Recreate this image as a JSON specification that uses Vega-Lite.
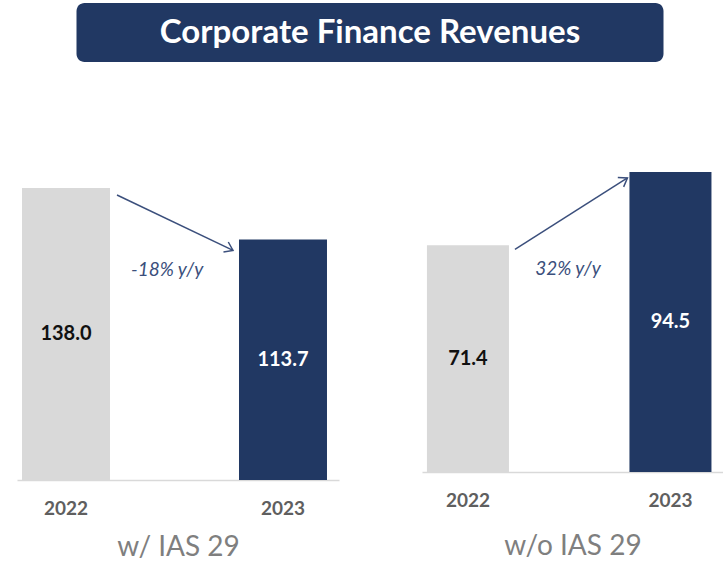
{
  "$schema": "https://vega.github.io/schema/vega-lite/v6.json",
  "padding": {"left": 17, "top": 3, "right": 0, "bottom": 0},
  "background": "white",
  "config": {"view": {"stroke": null}, "font": "Lato"},
  "datasets": {
    "bars_w": [{"year": "2022", "v": 138.0}, {"year": "2023", "v": 113.7}],
    "bars_wo": [{"year": "2022", "v": 71.4}, {"year": "2023", "v": 94.5}],
    "arrow_w": [{"from": "2022", "to": "2023", "v0": 138.0, "v1": 113.7, "label": "-18% y/y"}],
    "arrow_wo": [{"from": "2022", "to": "2023", "v0": 71.4, "v1": 94.5, "label": "32% y/y"}],
    "head": [{"title": "Corporate Finance Revenues"}]
  },
  "spacing": 103,
  "center": true,
  "vconcat": [
    {
      "width": 587,
      "height": 59,
      "view": {"fill": "#213863", "cornerRadius": 8, "stroke": null},
      "data": {"name": "head"},
      "mark": {"type": "text", "font": "Lato", "fontWeight": "bold", "fontSize": 33, "color": "#ffffff"},
      "encoding": {"text": {"field": "title", "type": "nominal"}}
    },
    {
      "spacing": 83,
      "hconcat": [
        {
          "width": 322,
          "height": 315,
          "layer": [
            {
              "data": {"name": "bars_w"},
              "mark": {"type": "bar"},
              "encoding": {
                "x": {
                  "field": "year", "type": "nominal", "title": "w/ IAS 29",
                  "scale": {"paddingInner": 0.5945, "paddingOuter": 0.0392, "align": 0.294},
                  "axis": {"labelAngle": 0, "ticks": false, "domainColor": "#d9d9d9", "domainWidth": 1.5,
                    "labelFont": "Lato", "labelFontWeight": "bold", "labelFontSize": 19, "labelColor": "#5f5f5f", "labelPadding": 19,
                    "titleFont": "Lato", "titleFontWeight": "normal", "titleFontSize": 28, "titleColor": "#7f7f7f", "titlePadding": 15}
                },
                "y": {"field": "v", "type": "quantitative", "scale": {"domain": [0, 148.87], "nice": false}, "axis": null},
                "color": {"field": "year", "type": "nominal", "scale": {"domain": ["2022", "2023"], "range": ["#d9d9d9", "#213863"]}, "legend": null}
              }
            },
            {
              "data": {"name": "bars_w"},
              "mark": {"type": "text", "font": "Lato", "fontWeight": "bold", "fontSize": 20},
              "encoding": {
                "x": {"field": "year", "type": "nominal", "title": "w/ IAS 29"},
                "y": {"field": "v", "type": "quantitative", "stack": "zero", "bandPosition": 0.5, "axis": null},
                "detail": {"field": "year"},
                "text": {"field": "v", "type": "quantitative", "format": ".1f"},
                "color": {"condition": {"test": "datum.year === '2023'", "value": "#ffffff"}, "value": "#111111"}
              }
            },
            {
              "data": {"name": "arrow_w"},
              "mark": {"type": "rule", "color": "#3b4f7c", "strokeWidth": 1.5, "xOffset": 7, "x2Offset": -6, "yOffset": 7, "y2Offset": 11},
              "encoding": {
                "x": {"field": "from", "type": "nominal", "bandPosition": 1, "title": "w/ IAS 29"},
                "x2": {"field": "to", "bandPosition": 0},
                "y": {"field": "v0", "type": "quantitative", "axis": null},
                "y2": {"field": "v1"}
              }
            },
            {
              "data": {"name": "arrow_w"},
              "mark": {"type": "point", "shape": "M-1,-0.7L0,0L-1,0.7", "filled": false, "stroke": "#3b4f7c", "strokeWidth": 1.5, "size": 250, "opacity": 1, "angle": 25.8, "xOffset": -6, "yOffset": 11},
              "encoding": {
                "x": {"field": "to", "type": "nominal", "bandPosition": 0, "title": "w/ IAS 29"},
                "y": {"field": "v1", "type": "quantitative", "axis": null}
              }
            },
            {
              "data": {"name": "arrow_w"},
              "mark": {"type": "text", "font": "Lato", "fontStyle": "italic", "fontSize": 19, "color": "#3b4f7c"},
              "encoding": {
                "x": {"field": "from", "type": "nominal", "bandPosition": 1.65, "title": "w/ IAS 29"},
                "y": {"datum": 99.2, "type": "quantitative", "axis": null},
                "text": {"field": "label", "type": "nominal"}
              }
            }
          ]
        },
        {
          "width": 301,
          "height": 307,
          "layer": [
            {
              "data": {"name": "bars_wo"},
              "mark": {"type": "bar"},
              "encoding": {
                "x": {
                  "field": "year", "type": "nominal", "title": "w/o IAS 29",
                  "scale": {"paddingInner": 0.595, "paddingOuter": 0.0407, "align": 0.3},
                  "axis": {"labelAngle": 0, "ticks": false, "domainColor": "#d9d9d9", "domainWidth": 1.5,
                    "labelFont": "Lato", "labelFontWeight": "bold", "labelFontSize": 19, "labelColor": "#5f5f5f", "labelPadding": 19,
                    "titleFont": "Lato", "titleFontWeight": "normal", "titleFontSize": 28, "titleColor": "#7f7f7f", "titlePadding": 22}
                },
                "y": {"field": "v", "type": "quantitative", "scale": {"domain": [0, 96.7], "nice": false}, "axis": null},
                "color": {"field": "year", "type": "nominal", "scale": {"domain": ["2022", "2023"], "range": ["#d9d9d9", "#213863"]}, "legend": null}
              }
            },
            {
              "data": {"name": "bars_wo"},
              "mark": {"type": "text", "font": "Lato", "fontWeight": "bold", "fontSize": 20},
              "encoding": {
                "x": {"field": "year", "type": "nominal", "title": "w/o IAS 29"},
                "y": {"field": "v", "type": "quantitative", "stack": "zero", "bandPosition": 0.5, "axis": null},
                "detail": {"field": "year"},
                "text": {"field": "v", "type": "quantitative", "format": ".1f"},
                "color": {"condition": {"test": "datum.year === '2023'", "value": "#ffffff"}, "value": "#111111"}
              }
            },
            {
              "data": {"name": "arrow_wo"},
              "mark": {"type": "rule", "color": "#3b4f7c", "strokeWidth": 1.5, "xOffset": 6, "x2Offset": -2, "yOffset": 4, "y2Offset": 6},
              "encoding": {
                "x": {"field": "from", "type": "nominal", "bandPosition": 1, "title": "w/o IAS 29"},
                "x2": {"field": "to", "bandPosition": 0},
                "y": {"field": "v0", "type": "quantitative", "axis": null},
                "y2": {"field": "v1"}
              }
            },
            {
              "data": {"name": "arrow_wo"},
              "mark": {"type": "point", "shape": "M-1,-0.7L0,0L-1,0.7", "filled": false, "stroke": "#3b4f7c", "strokeWidth": 1.5, "size": 250, "opacity": 1, "angle": 328.2, "xOffset": -2, "yOffset": 6},
              "encoding": {
                "x": {"field": "to", "type": "nominal", "bandPosition": 0, "title": "w/o IAS 29"},
                "y": {"field": "v1", "type": "quantitative", "axis": null}
              }
            },
            {
              "data": {"name": "arrow_wo"},
              "mark": {"type": "text", "font": "Lato", "fontStyle": "italic", "fontSize": 19, "color": "#3b4f7c"},
              "encoding": {
                "x": {"field": "from", "type": "nominal", "bandPosition": 1.72, "title": "w/o IAS 29"},
                "y": {"datum": 63.9, "type": "quantitative", "axis": null},
                "text": {"field": "label", "type": "nominal"}
              }
            }
          ]
        }
      ]
    }
  ]
}
